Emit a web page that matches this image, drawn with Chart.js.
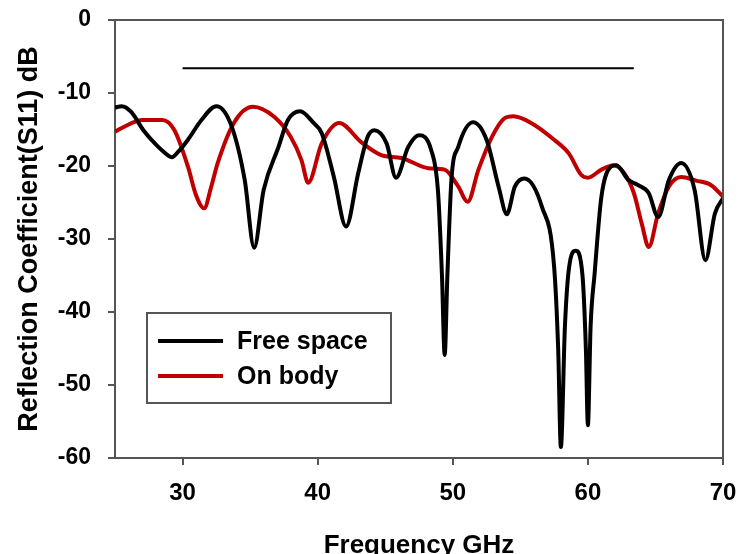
<!DOCTYPE html>
<html>
<head>
<meta charset="utf-8">
<script src="https://cdn.jsdelivr.net/npm/chart.js@4.4.1/dist/chart.umd.min.js"></script>
<style>
  html, body { margin: 0; padding: 0; background: #fff; }
  #wrap { width: 739px; height: 554px; }
</style>
</head>
<body>
<div id="wrap"><canvas id="s11_chart" width="739" height="554"></canvas></div>
<script>
const s11_chart = document.querySelector('#s11_chart')

// Free space curve
const freqFree = [25.0, 25.5, 26.2, 27.1, 28.0, 28.9, 29.2, 29.7, 30.4, 31.4, 32.5, 33.6, 34.6, 35.3, 36.0, 37.1, 37.8, 38.7, 39.7, 40.3,
    41.2, 42.1, 43.0, 43.7, 44.2, 45.1, 45.8, 46.7, 47.5, 48.4, 48.9, 49.2, 49.4, 49.6, 49.9, 50.4, 51.5, 52.5, 53.4, 54.0,
    54.6, 55.3, 56.6, 57.5, 57.8, 58.0, 58.3, 58.6, 59.1, 59.6, 59.85, 60.0, 60.2, 60.5, 61.0, 61.7, 62.1, 63.0, 63.7, 64.5,
    65.2, 66.0, 66.9, 67.9, 68.7, 69.4, 70.0]
const s11Free = [-12.0, -11.8, -12.6, -15.1, -17.0, -18.5, -18.8, -18.0, -16.4, -13.7, -11.8, -14.4, -21.9, -31.2, -23.3, -17.4, -13.7, -12.5, -14.1, -15.5,
    -21.5, -28.3, -21.0, -16.0, -15.1, -16.9, -21.6, -17.4, -15.8, -17.8, -23.3, -35.0, -45.9, -35.0, -21.9, -17.4, -14.0, -16.4, -22.9, -26.6,
    -22.8, -21.7, -25.6, -33.8, -45.0, -58.5, -42.0, -34.0, -31.6, -35.0, -45.0, -55.5, -42.0, -34.7, -24.2, -20.1, -19.9, -21.9, -22.6, -23.7,
    -27.0, -21.9, -19.6, -23.3, -32.9, -26.5, -24.4]

// On body curve
const freqBody = [25.0, 26.4, 27.0, 28.5, 29.4, 30.4, 31.0, 31.6, 32.1, 32.6, 33.8, 35.2, 36.8, 38.0, 38.8, 39.3, 40.3, 41.6, 43.2, 44.7,
    46.2, 48.2, 49.4, 50.4, 51.1, 51.9, 52.9, 53.8, 54.5, 55.8, 57.5, 58.6, 59.5, 60.0, 61.0, 61.9, 62.7, 63.4, 64.0, 64.5,
    65.2, 66.0, 66.9, 68.0, 69.1, 70.0]
const s11Body = [-15.3, -14.0, -13.7, -13.7, -15.1, -20.1, -24.0, -25.8, -23.0, -19.6, -14.1, -11.9, -13.3, -16.0, -19.2, -22.3, -16.9, -14.1, -16.7, -18.5,
    -18.9, -20.3, -20.5, -22.8, -24.9, -20.5, -16.0, -13.5, -13.2, -14.1, -16.4, -18.3, -21.2, -21.6, -20.5, -19.9, -21.0, -23.7, -28.0, -31.1,
    -26.5, -22.8, -21.5, -22.0, -22.6, -24.2]

// flat marker line near the top
const refLineX = [30, 63.4]
const refLineY = [-6.6, -6.6]

const xTicks = [30, 40, 50, 60, 70]
const yTicks = [0, -10, -20, -30, -40, -50, -60]

const pts = (xs, ys) => xs.map((x, i) => ({ x: x, y: ys[i] }))

const FONT = 'Liberation Sans, Arial, sans-serif'

// frame + legend box drawn on top
const framePlugin = {
    id: 'frame',
    afterDraw(chart) {
        const ctx = chart.ctx
        const a = chart.chartArea
        ctx.save()
        ctx.strokeStyle = '#555'
        ctx.lineWidth = 2
        ctx.beginPath()
        ctx.moveTo(a.left, a.top)
        ctx.lineTo(a.right, a.top)
        ctx.lineTo(a.right, a.bottom)
        ctx.stroke()

        // legend
        const bx = 147, by = 313, bw = 244, bh = 90
        ctx.fillStyle = '#fff'
        ctx.fillRect(bx, by, bw, bh)
        ctx.strokeStyle = '#555'
        ctx.lineWidth = 2
        ctx.strokeRect(bx, by, bw, bh)
        const rows = [chart.data.datasets[0], chart.data.datasets[1]]
        rows.forEach((ds, i) => {
            const ly = 341 + i * 35
            ctx.strokeStyle = ds.borderColor
            ctx.lineWidth = 4
            ctx.beginPath()
            ctx.moveTo(158, ly)
            ctx.lineTo(223, ly)
            ctx.stroke()
            ctx.fillStyle = '#000'
            ctx.font = 'bold 25px ' + FONT
            ctx.textBaseline = 'middle'
            ctx.fillText(ds.label, 237, ly + 1)
        })
        ctx.restore()
    }
}

new Chart(s11_chart, {
    type: 'line',
    data: {
        datasets: [{
            label: 'Free space',
            data: pts(freqFree, s11Free),
            borderColor: '#000000',
            borderWidth: 4,
            pointRadius: 0,
            cubicInterpolationMode: 'monotone'
        }, {
            label: 'On body',
            data: pts(freqBody, s11Body),
            borderColor: '#c00000',
            borderWidth: 4,
            pointRadius: 0,
            cubicInterpolationMode: 'monotone'
        }, {
            label: 'ref',
            data: pts(refLineX, refLineY),
            borderColor: '#000000',
            borderWidth: 2,
            pointRadius: 0
        }]
    },
    plugins: [framePlugin],
    options: {
        responsive: false,
        animation: false,
        devicePixelRatio: 1,
        layout: {
            padding: { top: 20, right: 16, left: 0, bottom: 0 }
        },
        plugins: {
            legend: false,
            tooltip: { enabled: false }
        },
        scales: {
            x: {
                type: 'linear',
                min: 25,
                max: 70,
                afterBuildTicks: scale => { scale.ticks = xTicks.map(v => ({ value: v })) },
                afterFit: scale => {
                    scale.height = 96
                    scale.paddingLeft = 0
                    scale.paddingRight = 0
                },
                grid: {
                    drawOnChartArea: false,
                    tickLength: 7,
                    color: '#555',
                    lineWidth: 2
                },
                border: { color: '#555', width: 2 },
                ticks: {
                    color: '#000',
                    padding: 14,
                    maxRotation: 0,
                    font: { family: FONT, size: 24, weight: 'bold' }
                },
                title: {
                    display: true,
                    text: 'Frequency GHz',
                    color: '#000',
                    padding: { top: 0, bottom: -7 },
                    font: { family: FONT, size: 26, weight: 'bold' }
                }
            },
            y: {
                min: -60,
                max: 0,
                afterBuildTicks: scale => { scale.ticks = yTicks.map(v => ({ value: v })) },
                afterFit: scale => {
                    scale.width = 115
                    scale.paddingTop = 0
                    scale.paddingBottom = 0
                },
                grid: {
                    drawOnChartArea: false,
                    tickLength: 7,
                    color: '#555',
                    lineWidth: 2
                },
                border: { color: '#555', width: 2 },
                ticks: {
                    color: '#000',
                    padding: 17,
                    font: { family: FONT, size: 23, weight: 'bold' }
                },
                title: {
                    display: true,
                    text: 'Reflection Coefficient(S11) dB',
                    color: '#000',
                    padding: { top: 13, bottom: 0 },
                    font: { family: FONT, size: 27, weight: 'bold' }
                }
            }
        }
    }
})
</script>
</body>
</html>
